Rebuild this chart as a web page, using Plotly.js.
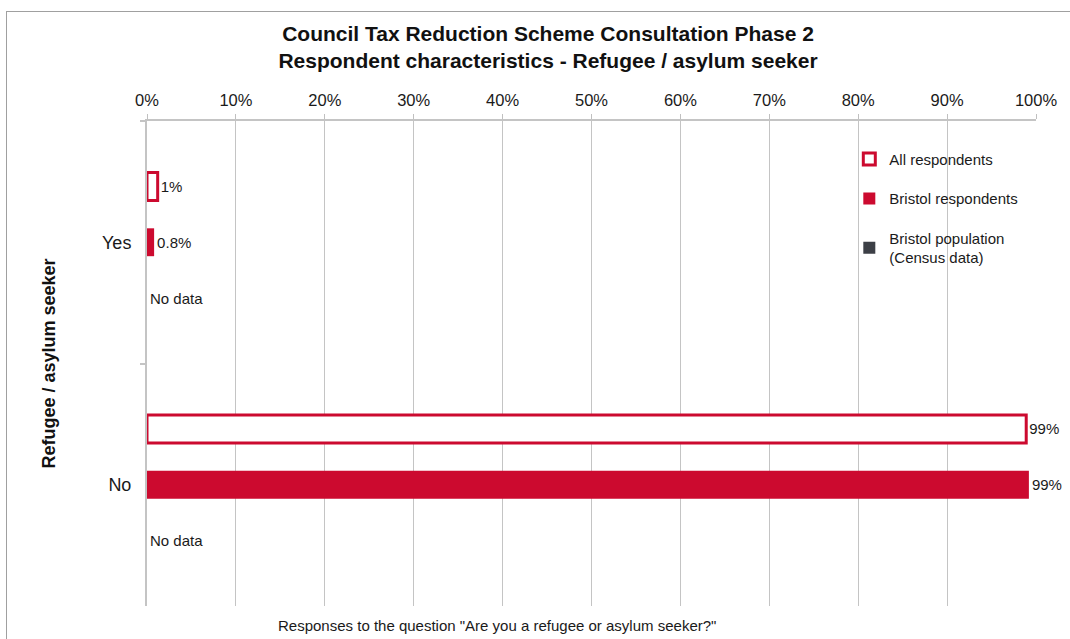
<!DOCTYPE html>
<html>
<head>
<meta charset="utf-8">
<script src="https://cdn.plot.ly/plotly-3.0.1.min.js"></script>
<style>
  html, body { margin: 0; padding: 0; background: #fff; }
  #wrap { position: relative; width: 1070px; height: 639px; overflow: hidden; }
  #chart { position: absolute; left: 0; top: 0; width: 1070px; height: 639px; }
  #frame { position: absolute; left: 6px; top: 11px; width: 1200px; height: 800px;
           border-top: 1px solid #a0a0a0; border-left: 1px solid #a0a0a0; pointer-events: none; }
</style>
</head>
<body>
<div id="wrap">
  <div id="chart"></div>
  <div id="frame"></div>
</div>
<script>
// ---- data ----
const categories = ["Yes", "No"];
const seriesNames = ["All respondents", "Bristol respondents", "Bristol population<br>(Census data)"];
const allRespondents = [1.2, 98.9];
const allLabels = ["1%", "99%"];
const bristolRespondents = [0.8, 99.2];
const bristolLabels = ["0.8%", "99%"];
const bristolPopulation = [0, 0];
const populationLabels = ["No data", "No data"];
const xTickVals = [0, 10, 20, 30, 40, 50, 60, 70, 80, 90, 100];
const xTickText = ["0%", "10%", "20%", "30%", "40%", "50%", "60%", "70%", "80%", "90%", "100%"];

const RED = "#cc0a2f";
const DARK = "#3c3f46";
const FONT = "Liberation Sans, Arial, sans-serif";

const textFont = { family: FONT, size: 15, color: "#1a1a1a" };

const traces = [
  {
    type: "bar", orientation: "h", name: seriesNames[0], legendgroup: "a",
    y: categories, x: allRespondents, text: allLabels,
    textposition: "outside", textfont: textFont, cliponaxis: false, constraintext: "none",
    marker: { color: "#ffffff", line: { color: RED, width: 3 } },
    hoverinfo: "skip"
  },
  {
    type: "bar", orientation: "h", name: seriesNames[1], legendgroup: "b",
    y: categories, x: bristolRespondents, text: bristolLabels,
    textposition: "outside", textfont: textFont, cliponaxis: false, constraintext: "none",
    marker: { color: RED, line: { width: 0 } },
    hoverinfo: "skip"
  },
  {
    type: "bar", orientation: "h", name: seriesNames[2], legendgroup: "c",
    y: categories, x: bristolPopulation, text: populationLabels,
    textposition: "outside", textfont: textFont, cliponaxis: false, constraintext: "none",
    marker: { color: DARK, line: { width: 0 } },
    hoverinfo: "skip"
  }
];

const layout = {
  width: 1070, height: 639,
  paper_bgcolor: "rgba(0,0,0,0)", plot_bgcolor: "#ffffff",
  margin: { l: 147, r: 34, t: 121, b: 33, pad: 0 },
  font: { family: FONT, color: "#1a1a1a" },
  title: {
    text: "<b>Council Tax Reduction Scheme Consultation Phase 2<br>Respondent characteristics - Refugee / asylum seeker</b>",
    font: { family: FONT, size: 21, color: "#111" },
    x: 548 / 1070, xanchor: "center", xref: "container",
    y: 1 - 41 / 639, yanchor: "top", yref: "container"
  },
  barmode: "group",
  bargap: 0.31,
  bargroupgap: 0.5,
  showlegend: true,
  legend: {
    x: 0.79, xanchor: "left", y: 0.955, yanchor: "top",
    bgcolor: "rgba(255,255,255,0)",
    font: { family: FONT, size: 15, color: "#1a1a1a" },
    traceorder: "grouped", tracegroupgap: 17,
    itemwidth: 30
  },
  xaxis: {
    side: "top", range: [0, 100], fixedrange: true,
    tickvals: xTickVals, ticktext: xTickText,
    tickfont: { family: FONT, size: 16.5, color: "#1a1a1a" },
    ticks: "outside", ticklen: 5, tickcolor: "#c0c0c0", tickwidth: 1,
    ticklabelstandoff: 1,
    showgrid: true, gridcolor: "#c4c4c4", gridwidth: 1,
    showline: true, linecolor: "#c4c4c4", linewidth: 2,
    zeroline: false
  },
  yaxis: {
    type: "category", autorange: "reversed", fixedrange: true,
    tickson: "boundaries",
    ticks: "outside", ticklen: 5, tickcolor: "#c4c4c4", tickwidth: 2,
    ticklabelstandoff: 10,
    tickfont: { family: FONT, size: 18, color: "#1a1a1a" },
    showline: true, linecolor: "#c4c4c4", linewidth: 2,
    showgrid: false, zeroline: false,
    automargin: false,
    title: {
      text: "<b>Refugee / asylum seeker</b>",
      font: { family: FONT, size: 18, color: "#111" },
      standoff: 42
    }
  },
  annotations: [
    {
      text: "Responses to the question \"Are you a refugee or asylum seeker?\"",
      xref: "paper", yref: "paper",
      x: (497 - 147) / 889, xanchor: "center",
      y: -(625 - 606) / 485, yanchor: "middle",
      showarrow: false,
      font: { family: FONT, size: 15, color: "#1a1a1a" }
    }
  ]
};

Plotly.newPlot("chart", traces, layout, { displayModeBar: false, staticPlot: true });
</script>
</body>
</html>
